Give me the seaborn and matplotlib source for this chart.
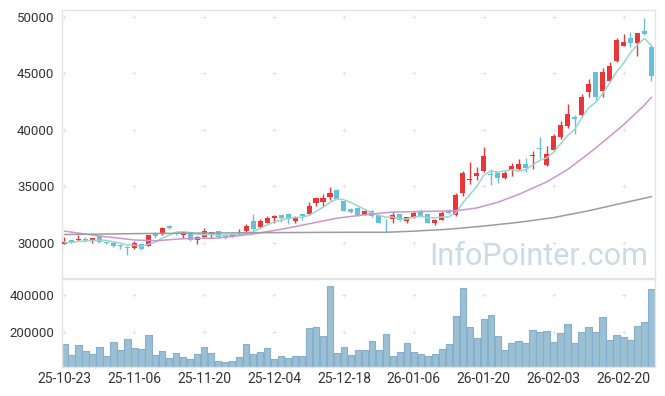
import numpy as np
import pandas as pd
import matplotlib
matplotlib.use("Agg")
import matplotlib.pyplot as plt
import seaborn as sns

# Daily candles, 25-10-23 .. 26-02-26 (85 trading days)
TICK_LABELS = ["25-10-23", "25-11-06", "25-11-20", "25-12-04", "25-12-18",
               "26-01-06", "26-01-20", "26-02-03", "26-02-20"]

opens = [29950, 30270, 30240, 30350, 30240, 30600, 30050, 29990, 29800, 29670,
         29560, 29880, 29710, 30820, 30770, 31500, 30950, 30700, 30950, 30300,
         30560, 30750, 31050, 30700, 30560, 30860, 31060, 31950, 31450, 31800,
         32250, 32480, 32600, 31970, 32550, 32560, 33570, 33650, 34050, 34700,
         33700, 33050, 33100, 32500, 32800, 32450, 32050, 32150, 32550, 31970,
         32270, 32850, 32550, 31800, 32050, 32800, 32480, 34400, 35550, 35950,
         36400, 36100, 36200, 35780, 36450, 36520, 37000, 37650, 38350, 36900,
         38200, 39400, 40350, 41100, 41280, 43360, 45130, 43400, 44360, 46050,
         47460, 48110, 47670, 48760, 47340]
highs = [30500, 30300, 30700, 30500, 30450, 30650, 30100, 30050, 29950, 29700,
         30200, 29950, 30750, 31000, 31400, 31550, 31050, 31000, 31000, 30600,
         31350, 31000, 31100, 30750, 30800, 31200, 31700, 32550, 32100, 32400,
         32450, 32500, 32650, 32400, 32600, 33600, 34000, 34300, 34950, 34750,
         33750, 33100, 33150, 32900, 32950, 32500, 32100, 32700, 32600, 32300,
         32800, 33000, 32600, 32100, 32850, 33000, 34400, 36400, 37150, 36700,
         38450, 36500, 36300, 36400, 37100, 37400, 37550, 38100, 39400, 38600,
         39600, 40750, 42270, 41300, 43200, 44500, 45150, 45500, 46000, 48170,
         48500, 48630, 48600, 49880, 47500]
lows = [29900, 30000, 30200, 30100, 30000, 30000, 29950, 29650, 29500, 28950,
        29450, 29350, 29700, 30450, 30700, 31250, 30700, 30400, 30200, 29900,
        30500, 30400, 30450, 30350, 30500, 30800, 31000, 31100, 31300, 31750,
        31800, 31900, 31700, 31800, 32000, 32500, 33300, 33200, 33800, 33850,
        32800, 32650, 32400, 32450, 32300, 31750, 31000, 31800, 31950, 31750,
        32200, 32350, 31750, 31600, 32000, 32600, 32400, 34200, 35200, 35600,
        36300, 35150, 35300, 35650, 35900, 36450, 36300, 36500, 37500, 36850,
        38100, 39200, 40200, 39650, 41200, 42900, 42600, 42900, 44300, 46000,
        47400, 47310, 46500, 48400, 44340]
closes = [30050, 30030, 30380, 30300, 30420, 30050, 30000, 29750, 29750, 29530,
          30000, 29500, 30710, 30650, 31300, 31300, 30800, 30950, 30250, 30560,
          31060, 30950, 30500, 30450, 30770, 31000, 31500, 31250, 31970, 32250,
          32400, 32200, 32150, 32270, 32350, 33270, 33950, 34000, 34420, 33900,
          32850, 32700, 32500, 32800, 32350, 31800, 32000, 32480, 32050, 32270,
          32630, 32400, 31800, 32050, 32630, 32650, 34250, 36220, 35650, 36220,
          37700, 36000, 35750, 36220, 36800, 37000, 36650, 37800, 38300, 37880,
          39470, 40450, 41420, 40950, 42870, 44070, 42870, 45130, 45660, 47960,
          47760, 47720, 48550, 48500, 44740]
volumes = [135700, 76800, 130400, 100000, 82200, 119700, 71400, 146500, 103600, 162500,
           114300, 108900, 184000, 76800, 100000, 60700, 87500, 66100, 55400, 82200,
           119700, 87500, 44600, 39300, 44600, 66100, 135700, 82200, 92900, 114300,
           55400, 71400, 60700, 71400, 71400, 221500, 226800, 178600, 446500, 87500,
           119700, 76800, 103600, 103600, 151800, 103600, 189300, 71400, 92900, 141100,
           92900, 82200, 71400, 82200, 108900, 135700, 285800, 435800, 226800, 167900,
           269700, 291100, 178600, 103600, 141100, 151800, 141100, 210700, 200000, 205400,
           146500, 194700, 242900, 141100, 200000, 226800, 200000, 280400, 157200, 184000,
           173200, 157200, 232200, 253600, 430400]

ma20_x = [0, 5, 10, 13, 17, 22, 27, 31, 35, 39, 43, 47, 52, 56, 59, 62, 65, 69, 72, 75, 77, 80, 83, 84]
ma20_v = [31050, 30620, 30270, 30200, 30380, 30440, 30800, 31210, 31700, 32200, 32500, 32740,
          32800, 32850, 33100, 33600, 34300, 35400, 36500, 37900, 38900, 40450, 42200, 42890]
ma60_x = [0, 10, 20, 30, 40, 46, 50, 55, 60, 65, 70, 75, 80, 84]
ma60_v = [30750, 30830, 30880, 30920, 30950, 30950, 31050, 31220, 31500, 31830, 32250, 32850,
          33550, 34100]

UP = "#ea3539"
DOWN = "#67c0da"

df = pd.DataFrame({"open": opens, "high": highs, "low": lows, "close": closes, "volume": volumes})
df["idx"] = np.arange(len(df))
df["ma5"] = df["close"].rolling(5, min_periods=1).mean()

sns.set_style("white")
plt.rcParams["font.family"] = ["Roboto", "DejaVu Sans"]

fig = plt.figure(figsize=(6.65, 3.96), dpi=100)
ax = fig.add_axes([0.0932, 0.2992, 0.8917, 0.6755])
axv = fig.add_axes([0.0932, 0.0720, 0.8917, 0.2222])

# candles
up = df["close"] >= df["open"]
colors = np.where(up, UP, DOWN)
body_lo = df[["open", "close"]].min(axis=1)
body_h = (df["close"] - df["open"]).abs().clip(lower=60)
ax.vlines(df["idx"], df["low"], df["high"], colors=colors, linewidth=1, zorder=2)
ax.bar(df["idx"], body_h, bottom=body_lo, width=0.72, color=colors, linewidth=0, zorder=3)

# moving averages
sns.lineplot(x=df["idx"], y=df["ma5"], ax=ax, color="#9ad6cb", linewidth=1.1, zorder=4)
sns.lineplot(x=ma20_x, y=ma20_v, ax=ax, color="#cf94ce", linewidth=1.1, zorder=4)
sns.lineplot(x=ma60_x, y=ma60_v, ax=ax, color="#9c9c9c", linewidth=1.1, zorder=4)

# volume
sns.barplot(x="idx", y="volume", data=df, ax=axv, native_scale=True, color="#9bbfd3",
            saturation=1, width=0.92, edgecolor="#85aecf", linewidth=0.8, zorder=2)

price_ticks = [30000, 35000, 40000, 45000, 50000]
vol_ticks = [200000, 400000]
xticks = list(range(0, 81, 10))

for a in (ax, axv):
    a.set_xlim(-0.35, 84.5)
    a.set_xlabel("")
    a.set_ylabel("")
    for s in a.spines.values():
        s.set_color("#e4e4e4")
        s.set_linewidth(1)
    a.tick_params(length=0, colors="#333333")

ax.set_ylim(26950, 50600)
ax.set_yticks(price_ticks)
ax.set_yticklabels([str(v) for v in price_ticks], fontsize=9.5)
ax.tick_params(axis="y", pad=5.5)
ax.set_xticks(xticks)
ax.set_xticklabels([])

axv.set_ylim(11000, 483000)
axv.set_yticks(vol_ticks)
axv.set_yticklabels([str(v) for v in vol_ticks], fontsize=9.5)
axv.tick_params(axis="y", pad=5.5)
axv.set_xticks(xticks)
axv.set_xticklabels(TICK_LABELS, fontsize=10)
axv.tick_params(axis="x", pad=3)

# grid shown as little crosses at the intersections
gx, gy = np.meshgrid(xticks, price_ticks)
ax.plot(gx.ravel(), gy.ravel(), "+", color="#e3e3e3", ms=3.5, mew=0.7, zorder=1)
gx, gy = np.meshgrid(xticks, vol_ticks)
axv.plot(gx.ravel(), gy.ravel(), "+", color="#e3e3e3", ms=3.5, mew=0.7, zorder=1)

ax.text(0.988, 0.045, "InfoPointer.com", transform=ax.transAxes, ha="right", va="baseline",
        fontsize=22, color="#c9dbe6", zorder=0)

fig.savefig("out.png", dpi=100)
